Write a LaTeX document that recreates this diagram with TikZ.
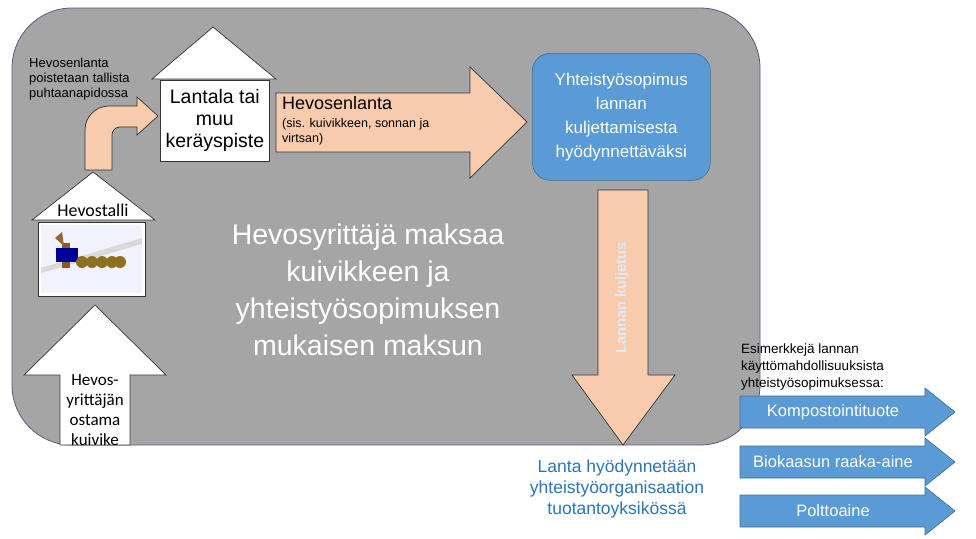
\documentclass[tikz,border=0pt]{standalone}
\usepackage{fontspec}
\setmainfont{Liberation Sans}
\newfontfamily\calib{Carlito}
\begin{document}
\begin{tikzpicture}[x=1pt,y=-1pt,
  peach/.style={fill=peachc,draw=black!80,line width=0.7pt},
  bluef/.style={fill=bluec,draw=bluec!70!black,line width=0.6pt},
  house/.style={fill=white,draw=black!80,line width=0.7pt},
  wtxt/.style={text=white,align=center}]
\definecolor{grayc}{HTML}{A5A5A5}
\definecolor{peachc}{HTML}{F8CBAD}
\definecolor{bluec}{HTML}{5B9BD5}
\definecolor{tblue}{HTML}{2E75B6}
\definecolor{lblue}{HTML}{DDEBF7}
\useasboundingbox (0,0) rectangle (976,538);
\fill[white] (0,0) rectangle (976,538);
% background panel
\draw[fill=grayc,draw=black!45!blue!30!gray,line width=0.8pt,rounded corners=60] (12,8) rectangle (760,445);
% Lantala house
\draw[house] (152,79) -- (213,27) -- (276,79) -- cycle;
\node[house,minimum width=109,minimum height=81,anchor=north west,inner sep=0] (lant) at (160,80) {};
\node[align=center,font=\fontsize{19.5}{22}\selectfont] at (lant.center) {Lantala tai\\muu\\keräyspiste};
% Hevostalli house
\draw[house] (32,220) -- (93,172) -- (155,220) -- cycle;
\node[font=\calib\fontsize{18}{18}\selectfont] (hevt) at (93,210) {Hevostalli};
\node[house,minimum width=107,minimum height=74,anchor=north west,inner sep=0] (img) at (38,222) {};
\fill[blue!5!white] (41,225) rectangle (142,293);
\fill[gray!30] (41,268) -- (142,238) -- (142,244) -- (41,273) -- cycle;
\fill[brown!70!black] (62,243) rectangle (70,268);
\fill[blue!60!black] (56,248) rectangle (78,262);
\fill[brown!80!black] (55,238) -- (62,232) -- (64,246) -- cycle;
\foreach \x in {82,92,102,112,120} \fill[brown!60!black!80!yellow] (\x,262) circle (6);
% bottom up arrow
\draw[house] (60,445) -- (60,375) -- (24,375) -- (95,305) -- (166,375) -- (130,375) -- (130,445) -- cycle;
\node[align=center,font=\calib\fontsize{17}{20}\selectfont] (kuiv) at (95,410) {Hevos-\\yrittäjän\\ostama\\kuivike};
% curved arrow
\draw[peach] (85,170) {[rounded corners=24] -- (85,106)} -- (137,106) -- (137,97) -- (158,116) -- (137,135) -- (137,127) {[rounded corners=8] -- (112,127)} -- (112,170) -- cycle;
\node[anchor=north west,align=left,font=\fontsize{13}{15}\selectfont,inner sep=0] (poist) at (29,58) {Hevosenlanta\\poistetaan tallista\\puhtaanapidossa};
% big right arrow
\draw[peach] (276,93) -- (470,93) -- (470,67) -- (527,122) -- (470,178) -- (470,152) -- (276,152) -- cycle;
\node[anchor=north west,inner sep=0,font=\fontsize{18}{18}\selectfont] (hl) at (282,96) {Hevosenlanta};
\node[anchor=north west,inner sep=0,align=left,font=\fontsize{12.5}{15}\selectfont] at (282,118) {(sis. kuivikkeen, sonnan ja\\virtsan)};
% blue box
\node[bluef,rounded corners=18,minimum width=178,minimum height=127,anchor=north west,inner sep=0] (yht) at (532,53) {};
\node[wtxt,font=\fontsize{17}{24}\selectfont] at (yht.center) {Yhteistyösopimus\\lannan\\kuljettamisesta\\hyödynnettäväksi};
% down arrow
\draw[peach] (598,190) -- (648,190) -- (648,375) -- (675,375) -- (623,445) -- (572,375) -- (598,375) -- cycle;
\node[rotate=90,text=lblue,font=\bfseries\fontsize{14.5}{16}\selectfont] (kulj) at (622,298) {Lannan kuljetus};
% center text
\node[wtxt,font=\fontsize{28.5}{37}\selectfont] (maks) at (368,290) {Hevosyrittäjä maksaa\\kuivikkeen ja\\yhteistyösopimuksen\\mukaisen maksun};
% bottom blue text
\node[align=center,text=tblue,font=\fontsize{17.5}{21}\selectfont] (lanta) at (617,489) {Lanta hyödynnetään\\yhteistyöorganisaation\\tuotantoyksikössä};
% right examples
\node[anchor=north west,inner sep=0,align=left,font=\fontsize{13.5}{17}\selectfont] (esim) at (741,344) {Esimerkkejä lannan\\käyttömahdollisuuksista\\yhteistyösopimuksessa:};
\foreach \yy/\t in {412/Kompostointituote,462/Biokaasun raaka-aine,511/Polttoaine}{
  \draw[bluef] (740,\yy-16) -- (925,\yy-16) -- (925,\yy-24) -- (955,\yy) -- (925,\yy+24) -- (925,\yy+16) -- (740,\yy+16) -- cycle;
  \node[text=white,font=\fontsize{16.5}{18}\selectfont] at (833,\yy) {\t};
}
\end{tikzpicture}
\end{document}
